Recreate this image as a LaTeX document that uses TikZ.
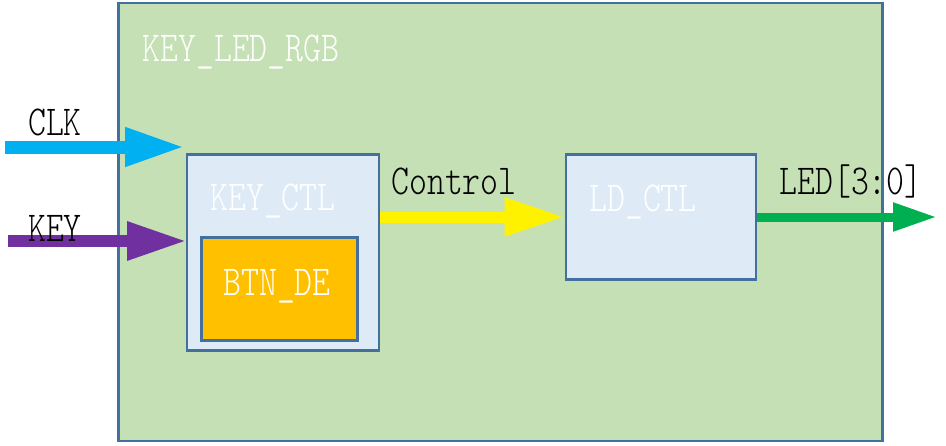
\documentclass[tikz,border=0pt]{standalone}
\usepackage{fontspec}
\usepackage{tikz}
\usetikzlibrary{arrows.meta}
\newfontfamily\blockfont{Latin Modern Mono Light}[FakeStretch=0.8]
\definecolor{topfill}{HTML}{C5E0B4}
\definecolor{boxline}{HTML}{41719C}
\definecolor{subfill}{HTML}{DEEBF7}
\definecolor{btnfill}{HTML}{FFC000}
\definecolor{clkcol}{HTML}{00B0F0}
\definecolor{keycol}{HTML}{7030A0}
\definecolor{ledcol}{HTML}{00B050}

\begin{document}
\begin{tikzpicture}[x=0.75pt, y=-0.75pt,
  every node/.style={font=\blockfont\fontsize{32pt}{36pt}\selectfont, inner sep=0pt},
  block/.style={draw=boxline, line width=1.9pt, fill=subfill},
  wtext/.style={text=white},
  sig/.style={line width=#1},
  bighead/.style={-{Triangle[length=45pt, width=27pt]}},
  smallhead/.style={-{Triangle[length=33pt, width=20pt]}}]
\useasboundingbox (0,0) rectangle (946,446);
\node[block, fill=topfill, minimum width=573pt, minimum height=328.5pt] (top) at (500.5,222) {};
\node[wtext] (toplabel) at (241,52) {KEY\_LED\_RGB};
\node[block, minimum width=144pt, minimum height=147pt] (keyctl) at (283,252.5) {};
\node[wtext] (keyctllabel) at (273,201) {KEY\_CTL};
\node[block, fill=btnfill, minimum width=117pt, minimum height=77pt] (btnde) at (279.5,289) {};
\node[wtext] (btndelabel) at (277,286) {BTN\_DE};
\node[block, minimum width=142.5pt, minimum height=93.75pt] (ldctl) at (661,217) {};
\node[wtext] (ldctllabel) at (643,202) {LD\_CTL};
% signals
\coordinate (clkstart) at (5,147);
\coordinate (clkend) at (185,147);
\coordinate (keystart) at (8,241);
\coordinate (keyend) at (187,241);
\coordinate (ledend) at (937,217);
\draw[sig=9.75pt, bighead, draw=clkcol, fill=clkcol] (clkstart) -- (clkend);
\draw[sig=9pt, bighead, draw=keycol, fill=keycol] (keystart) -- (keyend);
\draw[sig=8.25pt, bighead, draw=yellow, fill=yellow] (keyctl.east |- ldctl.west) -- (ldctl.west);
\draw[sig=6.75pt, smallhead, draw=ledcol, fill=ledcol] (ldctl.east) -- (ledend);
\node (clk) at (55,122) {CLK};
\node (key) at (55,228) {KEY};
\node (ctrl) at (454,181) {Control};
\node (led) at (851,181) {LED[3:0]};
\end{tikzpicture}
\end{document}
